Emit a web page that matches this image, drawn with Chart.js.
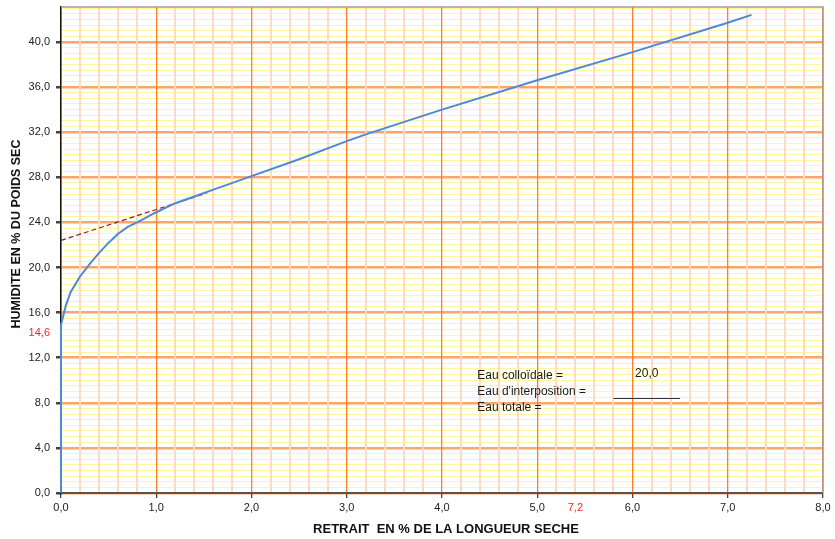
<!DOCTYPE html>
<html>
<head>
<meta charset="utf-8">
<script src="https://cdn.jsdelivr.net/npm/chart.js@4.4.1/dist/chart.umd.min.js"></script>
<style>
  html, body { margin: 0; padding: 0; background: #fff; }
  #wrap { width: 835px; height: 539px; }
</style>
</head>
<body>
<div id="wrap"><canvas id="c" width="835" height="539"></canvas></div>
<script>
// courbe de retrait
const retrait = [0, 0, 0.05, 0.1, 0.2, 0.3, 0.4, 0.5, 0.6, 0.7, 0.8, 1.0, 1.2, 1.4, 1.6, 2.0, 2.5, 3.0, 3.2, 4.0, 5.0, 6.0, 7.0, 7.25];
const humidite = [0, 14.9, 16.6, 17.8, 19.2, 20.3, 21.3, 22.2, 23.0, 23.6, 24.0, 24.9, 25.7, 26.3, 26.9, 28.1, 29.6, 31.2, 31.8, 34.0, 36.6, 39.1, 41.7, 42.4];

// tangente (pointillés)
const tangenteX = [0, 1.53];
const tangenteY = [22.4, 26.6];

const xTickLabels = ['0,0', '1,0', '2,0', '3,0', '4,0', '5,0', '6,0', '7,0', '8,0'];
const yTickLabels = ['0,0', '4,0', '8,0', '12,0', '16,0', '20,0', '24,0', '28,0', '32,0', '36,0', '40,0'];

const eauLabels = ['Eau colloïdale =', "Eau d'interposition =", 'Eau totale ='];
const eauColloidale = '20,0';
const limiteRetrait = '7,2';
const humiditeLimite = '14,6';
const titreX = 'RETRAIT  EN % DE LA LONGUEUR SECHE';
const titreY = 'HUMIDITE EN % DU POIDS SEC';

const FONT = 'Liberation Sans, Arial, sans-serif';

function near(v, step) {
  return Math.abs(v / step - Math.round(v / step)) < 1e-6;
}

function range(a, b, step) {
  const out = [];
  for (let k = 0; a + k * step <= b + 1e-9; k++) out.push(+(a + k * step).toFixed(4));
  return out;
}

const toPts = (xs, ys) => xs.map((x, i) => ({ x: x, y: ys[i] }));

// textes, titres et cadre
const extras = {
  id: 'extras',
  afterDraw(chart) {
    const ctx = chart.ctx, a = chart.chartArea;
    const xs = chart.scales.x, ys = chart.scales.y;
    ctx.save();
    // cadre haut / droite
    ctx.strokeStyle = '#a59c96';
    ctx.lineWidth = 1.5;
    ctx.beginPath();
    ctx.moveTo(a.left, a.top);
    ctx.lineTo(a.right, a.top);
    ctx.lineTo(a.right, a.bottom);
    ctx.stroke();

    // titres des axes
    ctx.fillStyle = '#111';
    ctx.textAlign = 'center';
    ctx.textBaseline = 'middle';
    ctx.font = 'bold 13px ' + FONT;
    ctx.fillText(titreX, (a.left + a.right) / 2 + 4, 529);
    ctx.save();
    ctx.translate(17, 234);
    ctx.rotate(-Math.PI / 2);
    ctx.font = 'bold 12.5px ' + FONT;
    ctx.fillText(titreY, 0, 0);
    ctx.restore();

    ctx.font = '12px ' + FONT;
    ctx.fillStyle = '#1a1a1a';
    ctx.textAlign = 'left';
    const tx = xs.getPixelForValue(4.37);
    eauLabels.forEach((t, i) => {
      ctx.fillText(t, tx, ys.getPixelForValue(10.38) + i * 16);
    });
    ctx.textAlign = 'center';
    ctx.fillText(eauColloidale, xs.getPixelForValue(6.15), ys.getPixelForValue(10.55));
    ctx.strokeStyle = '#333';
    ctx.lineWidth = 1;
    ctx.beginPath();
    const ly = Math.round(ys.getPixelForValue(8.4)) + 0.5;
    ctx.moveTo(xs.getPixelForValue(5.8), ly);
    ctx.lineTo(xs.getPixelForValue(6.5), ly);
    ctx.stroke();

    ctx.font = '11px ' + FONT;
    ctx.fillStyle = '#ff2020';
    ctx.textAlign = 'center';
    ctx.fillText(limiteRetrait, xs.getPixelForValue(5.4), a.bottom + 15);
    ctx.textAlign = 'right';
    ctx.fillText(humiditeLimite, a.left - 11, ys.getPixelForValue(14.2));
    ctx.restore();
  }
};

new Chart(document.getElementById('c'), {
  type: 'scatter',
  data: {
    datasets: [
      {
        data: toPts(retrait, humidite),
        showLine: true,
        borderColor: '#4f88d6',
        borderWidth: 2,
        pointRadius: 0,
        tension: 0,
        clip: false
      },
      {
        data: toPts(tangenteX, tangenteY),
        showLine: true,
        borderColor: '#9b1b1b',
        borderWidth: 1.2,
        borderDash: [5, 3],
        pointRadius: 0
      }
    ]
  },
  options: {
    responsive: false,
    animation: false,
    events: [],
    layout: { padding: { top: 7, right: 12, left: 0, bottom: 0 } },
    plugins: { legend: { display: false }, tooltip: { enabled: false } },
    scales: {
      x: {
        type: 'linear',
        min: 0,
        max: 8,
        afterBuildTicks: s => { s.ticks = range(0, 8, 0.2).map(v => ({ value: v })); },
        afterFit: s => { s.height = 46; s.paddingLeft = 0; s.paddingRight = 0; },
        ticks: {
          autoSkip: false,
          maxRotation: 0,
          padding: 3,
          color: '#222',
          font: { family: FONT, size: 11 },
          callback: v => near(v, 1) ? xTickLabels[Math.round(v)] : ''
        },
        grid: {
          z: 0,
          color: c => near(c.tick.value, 1) ? '#ff7f27' : '#ffdcbc',
          lineWidth: c => near(c.tick.value, 1) ? 1.3 : 2,
          tickColor: c => near(c.tick.value, 1) ? '#444' : 'rgba(0,0,0,0)',
          tickLength: 5
        },
        border: { color: '#555', width: 2 }
      },
      y: {
        type: 'linear',
        min: 0,
        max: 43.1,
        afterBuildTicks: s => { s.ticks = range(0, 43, 0.5).map(v => ({ value: v })); },
        afterFit: s => { s.width = 61; s.paddingTop = 0; s.paddingBottom = 0; },
        ticks: {
          autoSkip: false,
          padding: 6,
          color: '#222',
          font: { family: FONT, size: 11 },
          callback: v => near(v, 4) ? yTickLabels[Math.round(v / 4)] : ''
        },
        grid: {
          z: -1,
          color: c => near(c.tick.value, 4) ? '#ffa56a' : '#fff6a0',
          lineWidth: c => near(c.tick.value, 4) ? 2.5 : 1,
          tickColor: c => near(c.tick.value, 4) ? '#444' : 'rgba(0,0,0,0)',
          tickLength: 5
        },
        border: { color: '#111', width: 1.5 }
      }
    }
  },
  plugins: [extras]
});
</script>
</body>
</html>
